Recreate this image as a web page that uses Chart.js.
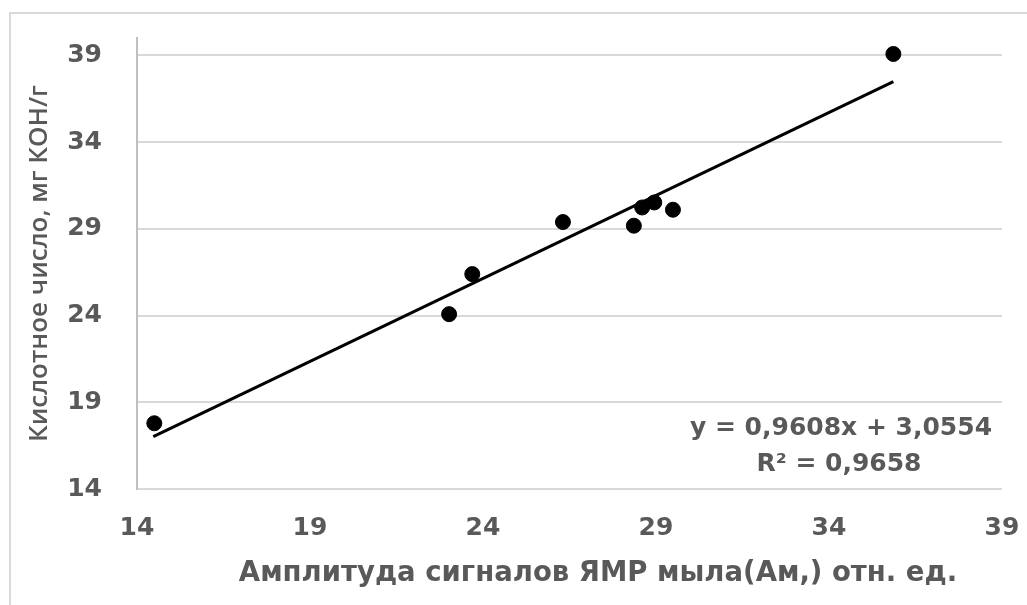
<!DOCTYPE html>
<html>
<head>
<meta charset="utf-8">
<script src="https://cdn.jsdelivr.net/npm/chart.js"></script>
<style>
  html, body { margin: 0; padding: 0; background: #fff; }
  #wrap { width: 1027px; height: 605px; }
</style>
</head>
<body>
<div id="wrap"><canvas id="chart"></canvas></div>
<script>
// values
const amplitude = [14.50, 23.02, 23.69, 26.31, 28.36, 28.60, 28.95, 29.49, 35.86];
const acidNumber = [17.79, 24.08, 26.39, 29.39, 29.18, 30.23, 30.52, 30.10, 39.08];

// trend line ends, as drawn
const trendX = [14.47, 35.86];
const trendY = [17.02, 37.48];

const xTicks = [14, 19, 24, 29, 34, 39];
const yTicks = [14, 19, 24, 29, 34, 39];

const xTitle = 'Амплитуда сигналов ЯМР мыла(Ам,) отн. ед.';
const yTitle = 'Кислотное число, мг КОН/г';
const equation = ['y = 0,9608x + 3,0554', 'R² = 0,9658'];

const textGray = '#595959';

function noPad(s) {
  s.paddingTop = 0;
  s.paddingBottom = 0;
  s.paddingLeft = 0;
  s.paddingRight = 0;
}

// frame, x title and the trendline label
const extras = {
  id: 'extras',
  afterDraw(chart) {
    const { ctx } = chart;
    ctx.save();
    ctx.strokeStyle = '#d9d9d9';
    ctx.lineWidth = 2;
    ctx.strokeRect(10, 13, 1200, 800);

    ctx.fillStyle = textGray;
    ctx.textAlign = 'center';
    ctx.textBaseline = 'alphabetic';
    ctx.font = 'bold 27.5px "DejaVu Sans"';
    ctx.fillText(xTitle, 598, 581);

    ctx.font = 'bold 25px "DejaVu Sans"';
    ctx.fillText(equation[0], 841, 435);
    ctx.fillText(equation[1], 839, 471);
    ctx.restore();
  }
};

new Chart(document.getElementById('chart'), {
  type: 'scatter',
  data: {
    datasets: [
      {
        type: 'line',
        data: trendX.map((x, i) => ({ x, y: trendY[i] })),
        borderColor: '#000',
        borderWidth: 3,
        pointRadius: 0,
        fill: false
      },
      {
        data: amplitude.map((x, i) => ({ x, y: acidNumber[i] })),
        backgroundColor: '#000',
        borderColor: '#000',
        pointRadius: 7.5,
        pointHoverRadius: 7.5
      }
    ]
  },
  options: {
    responsive: true,
    maintainAspectRatio: false,
    animation: false,
    layout: { padding: { top: 38, right: 25, left: 0, bottom: 0 } },
    plugins: {
      legend: { display: false },
      tooltip: { enabled: false }
    },
    scales: {
      x: {
        type: 'linear',
        min: 14,
        max: 39,
        afterBuildTicks: s => { s.ticks = xTicks.map(v => ({ value: v })); },
        afterFit: s => { s.height = 116; noPad(s); },
        grid: { display: false, drawTicks: false },
        border: { display: false },
        ticks: {
          color: textGray,
          padding: 24,
          maxRotation: 0,
          font: { family: 'DejaVu Sans', weight: 'bold', size: 25 }
        }
      },
      y: {
        min: 14,
        max: 40,
        afterBuildTicks: s => { s.ticks = yTicks.map(v => ({ value: v })); },
        afterFit: s => { s.width = 137; noPad(s); },
        grid: { color: '#d9d9d9', lineWidth: 2, drawTicks: false },
        border: { display: true, color: '#bfbfbf', width: 2 },
        ticks: {
          color: textGray,
          padding: 35,
          font: { family: 'DejaVu Sans', weight: 'bold', size: 25 }
        },
        title: {
          display: true,
          text: yTitle,
          color: textGray,
          padding: { top: 24, bottom: 0 },
          font: { family: 'Open Sans', weight: '600', size: 26 }
        }
      }
    }
  },
  plugins: [extras]
});
</script>
</body>
</html>
